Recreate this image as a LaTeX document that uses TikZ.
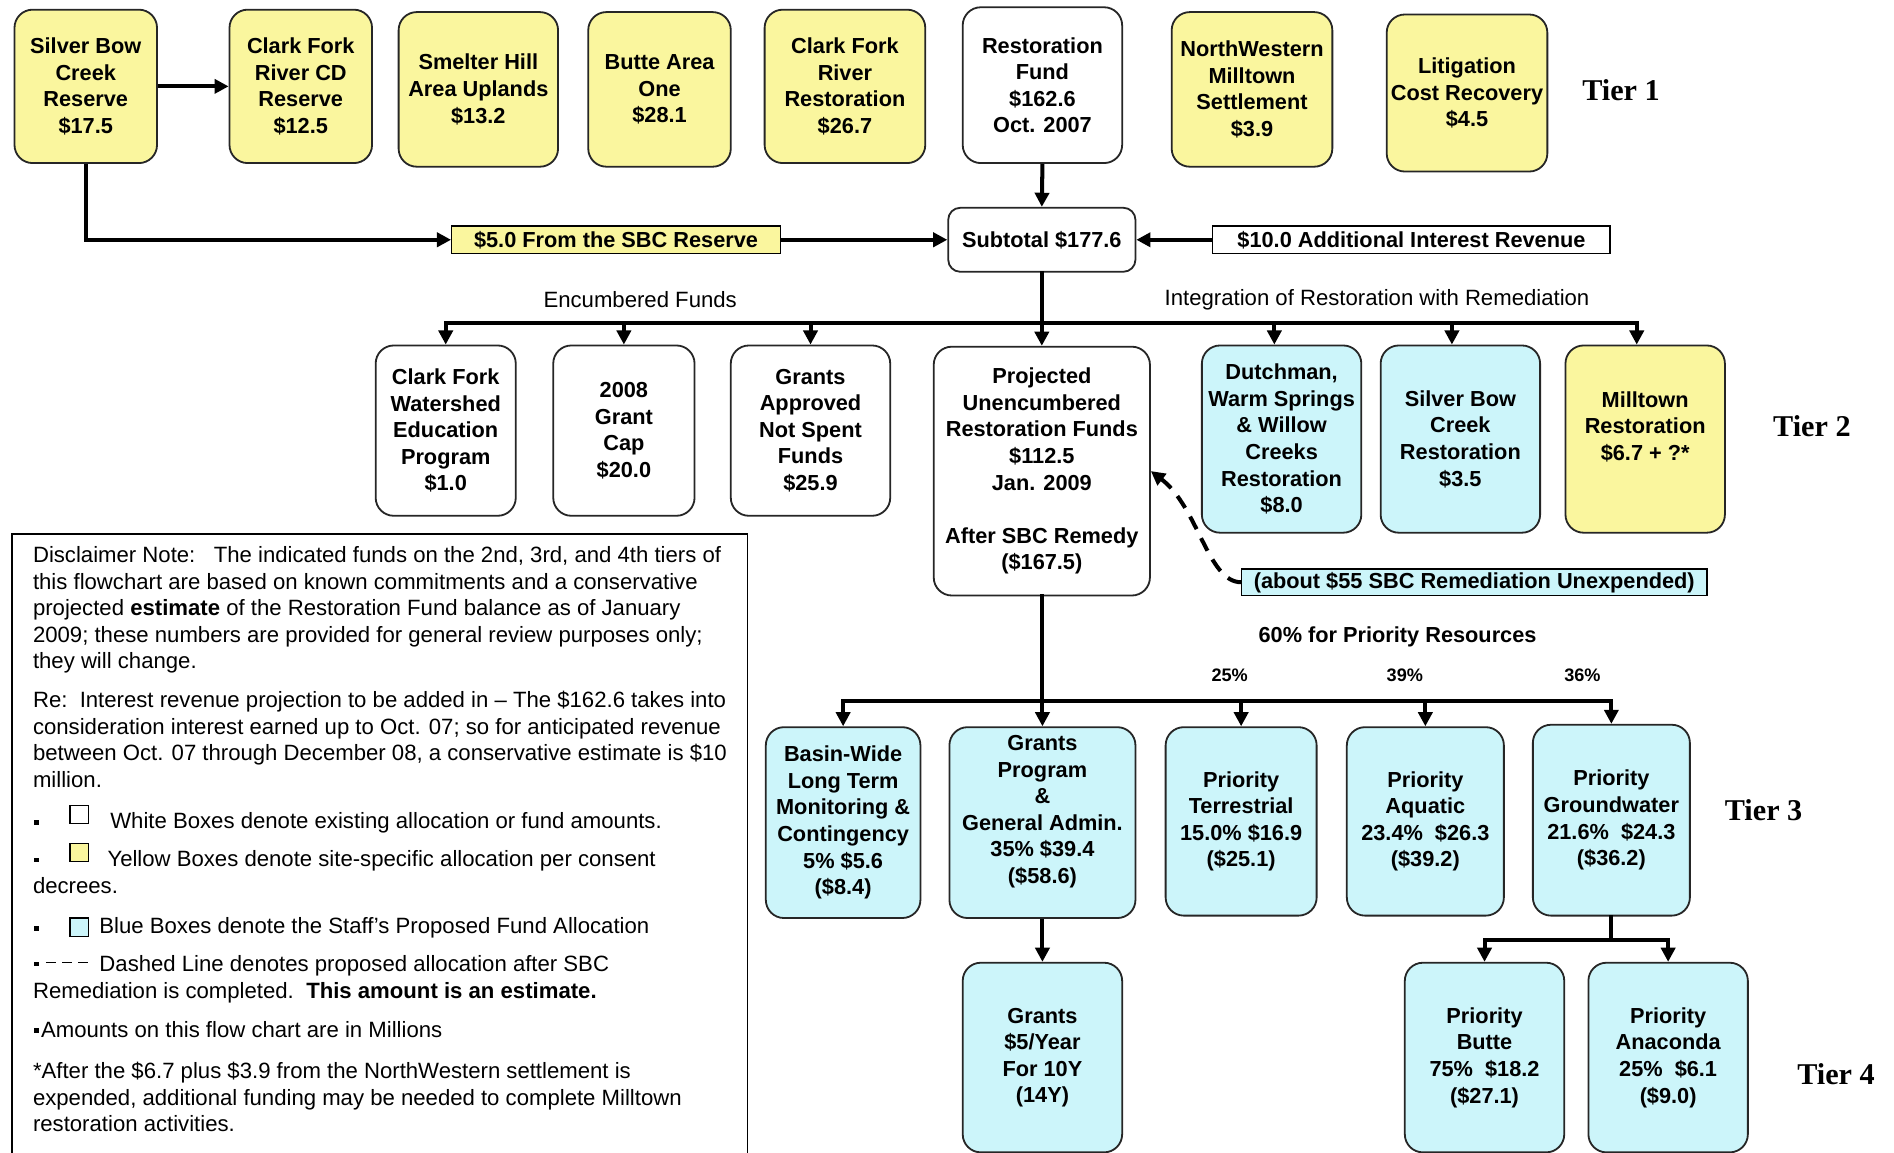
\documentclass[tikz,border=0pt]{standalone}
\usepackage{fontspec}
\setmainfont{Liberation Sans}
\newfontfamily\tierfont{Liberation Serif}
\usetikzlibrary{arrows.meta}

\definecolor{fundyellow}{RGB}{250,246,158}
\definecolor{fundblue}{RGB}{204,245,250}

\newcommand\boxfont{\fontsize{10.8}{13.2}\selectfont\bfseries}
\newcommand\notefont{\fontsize{11}{13.2}\selectfont}

\tikzset{
  fund/.style={draw=black!85, line width=0.9pt, rounded corners=9pt, align=center, font=\boxfont, inner sep=1pt},
  sz/.style 2 args={minimum width=#1*0.6pt, minimum height=#2*0.6pt},
  wbox/.style={fund, fill=white},
  ybox/.style={fund, fill=fundyellow},
  bbox/.style={fund, fill=fundblue},
  tag/.style={draw, line width=0.7pt, font=\boxfont, inner sep=0pt},
  flow/.style={line width=2pt, -{Triangle[length=7pt,width=7pt]}},
  bus/.style={line width=2pt, line cap=rect},
  dashflow/.style={line width=2pt, dash pattern=on 7pt off 5pt, -{Triangle[length=7pt,width=7pt]}},
  tier/.style={font=\tierfont\fontsize{15}{18}\selectfont\bfseries},
  note/.style={anchor=north west, align=left, font=\notefont, inner sep=0pt},
}

\begin{document}
\begin{tikzpicture}[x=0.6pt,y=-0.6pt]
\useasboundingbox (0,0) rectangle (1568,954);

% tier 1
\node[ybox, sz={118}{127}] (sbcres) at (71,71.5) {Silver Bow\\Creek\\Reserve\\\$17.5};
\node[ybox, sz={118}{127}] (cfrcd) at (249,71.5) {Clark Fork\\River CD\\Reserve\\\$12.5};
\node[ybox, sz={132}{128}] (smelter) at (396,74) {Smelter Hill\\Area Uplands\\\$13.2};
\node[ybox, sz={118}{128}] (butte1) at (546,74) {Butte Area\\One\\\$28.1};
\node[ybox, sz={133}{127}] (cfrrest) at (699.5,71.5) {Clark Fork\\River\\Restoration\\\$26.7};
\node[wbox, sz={132}{129}] (restfund) at (863,70.5) {Restoration\\Fund\\\$162.6\\Oct. 2007};
\node[ybox, sz={133}{128}] (nwms) at (1036.5,74) {NorthWestern\\Milltown\\Settlement\\\$3.9};
\node[ybox, sz={133}{130}] (litig) at (1214.5,77) {Litigation\\Cost Recovery\\\$4.5};
\node[tier] (tierA) at (1342,75) {Tier 1};

\draw[flow] (sbcres) -- (cfrcd);

% subtotal row
\node[fund, rounded corners=6pt, sz={155}{53}] (subtotal) at (862.5,198.5) {Subtotal \$177.6};
\node[tag, fill=fundyellow, sz={272}{23}] (sbc5) at (510,198.5) {\$5.0 From the SBC Reserve};
\node[tag, fill=white, sz={329}{23}] (int10) at (1168.5,198.5) {\$10.0 Additional Interest Revenue};

\draw[flow] (sbcres.south) |- (sbc5.west);
\draw[flow] (sbc5.east) -- (subtotal.west);
\draw[flow] (int10.west) -- (subtotal.east);
\draw[flow] (restfund.south) -- (subtotal.north);

\node[font=\notefont] (encumb) at (530,248) {Encumbered Funds};
\node[font=\notefont] (integ) at (1140,248) {Integration of Restoration with Remediation};

% tier 2
\node[wbox, sz={116}{141}] (cfwep) at (369,356.5) {Clark Fork\\Watershed\\Education\\Program\\\$1.0};
\node[wbox, sz={117}{141}] (grantcap) at (516.5,356.5) {2008\\Grant\\Cap\\\$20.0};
\node[wbox, sz={132}{141}] (gans) at (671,356.5) {Grants\\Approved\\Not Spent\\Funds\\\$25.9};
\node[wbox, sz={179}{206}] (projected) at (862.5,390) {Projected\\Unencumbered\\Restoration Funds\\\$112.5\\Jan. 2009\\[13.2pt]After SBC Remedy\\(\$167.5)};
\node[bbox, sz={132}{155}] (dutch) at (1061,363.5) {Dutchman,\\Warm Springs\\\& Willow\\Creeks\\Restoration\\\$8.0};
\node[bbox, sz={132}{155}] (sbcrest) at (1209,363.5) {Silver Bow\\Creek\\Restoration\\\$3.5};
\node[ybox, sz={132}{155}] (milltown) at (1362,363.5) {Milltown\\Restoration\\\$6.7 + ?*\\\mbox{}};
\node[tier] (tierB) at (1500,353) {Tier 2};

\coordinate (busA) at (862.5,267);
\draw[bus] (subtotal.south) -- (busA);
\draw[bus] (cfwep.north |- busA) -- ([xshift=-4.2pt]milltown.north |- busA);
\foreach \n/\dx in {cfwep/0,grantcap/0,gans/0,projected/0,dutch/-3.6,sbcrest/-4.2,milltown/-4.2}
  \draw[flow] ([xshift=\dx pt]\n.north |- busA) -- ([xshift=\dx pt]\n.north);

\node[tag, fill=fundblue, sz={385}{22}] (about) at (1220.5,482) {(about \$55 SBC Remediation Unexpended)};
\draw[dashflow] (about.west) .. controls (1000,482) and (992,420) .. (projected.east);

% tier 3
\node[font=\boxfont] (prio) at (1157,527) {60\% for Priority Resources};
\node[font=\fontsize{9}{11}\selectfont\bfseries] (pctA) at (1018,559) {25\%};
\node[font=\fontsize{9}{11}\selectfont\bfseries] (pctB) at (1163,559) {39\%};
\node[font=\fontsize{9}{11}\selectfont\bfseries] (pctC) at (1310,559) {36\%};

\node[bbox, sz={128}{158}] (basin) at (698,681) {Basin-Wide\\Long Term\\Monitoring \&\\Contingency\\5\% \$5.6\\(\$8.4)};
\node[bbox, sz={154}{158}] (grantsprog) at (863,681) {Grants\\Program\\\&\\General Admin.\\35\% \$39.4\\(\$58.6)\\\mbox{}};
\node[bbox, sz={125}{156}] (terr) at (1027.5,680) {Priority\\Terrestrial\\15.0\% \$16.9\\(\$25.1)};
\node[bbox, sz={130}{156}] (aquatic) at (1180,680) {Priority\\Aquatic\\23.4\%~ \$26.3\\(\$39.2)};
\node[bbox, sz={130}{158}] (ground) at (1334,679) {Priority\\Groundwater\\21.6\%~ \$24.3\\(\$36.2)};
\node[tier] (tierC) at (1460,671) {Tier 3};

\coordinate (busB) at (862.5,580);
\draw[bus] (projected.south) -- (busB);
\draw[bus] (basin.north |- busB) -- (ground.north |- busB);
\foreach \n in {basin,grantsprog,terr,aquatic,ground}
  \draw[flow] (\n.north |- busB) -- (\n.north);

% tier 4
\node[bbox, sz={132}{157}] (grants5) at (863,875.5) {Grants\\\$5/Year\\For 10Y\\(14Y)};
\node[bbox, sz={132}{157}] (butte) at (1229,875.5) {Priority\\Butte\\75\%~ \$18.2\\(\$27.1)};
\node[bbox, sz={132}{157}] (anaconda) at (1381,875.5) {Priority\\Anaconda\\25\%~ \$6.1\\(\$9.0)};
\node[tier] (tierD) at (1520,889) {Tier 4};

\draw[flow] (grantsprog.south) -- (grants5.north);
\coordinate (busC) at (1334,778);
\draw[bus] (ground.south) -- (busC);
\draw[bus] (butte.north |- busC) -- (anaconda.north |- busC);
\foreach \n in {butte,anaconda}
  \draw[flow] (\n.north |- busC) -- (\n.north);

% legend
\draw[line width=0.7pt] (10,960) -- (10,442) -- (619,442) -- (619,960);
\node[note] (note1) at (27,452) {Disclaimer Note:\ \ \ The indicated funds on the 2nd, 3rd, and 4th tiers of\\this flowchart are based on known commitments and a conservative\\projected \textbf{estimate} of the Restoration Fund balance as of January\\2009; these numbers are provided for general review purposes only;\\they will change.};
\node[note] (note2) at (27,572) {Re:\ \ Interest revenue projection to be added in – The \$162.6 takes into\\consideration interest earned up to Oct. 07; so for anticipated revenue\\between Oct. 07 through December 08, a conservative estimate is \$10\\million.};
\node[note] (note3) at (27,672) {\hspace{38.4pt}White Boxes denote existing allocation or fund amounts.};
\node[note] (note4) at (27,704) {\hspace{37pt}Yellow Boxes denote site-specific allocation per consent\\decrees.};
\node[note] (note5) at (27,759) {\hspace{33pt}Blue Boxes denote the Staff’s Proposed Fund Allocation};
\node[note] (note6) at (27,791) {\hspace{33pt}Dashed Line denotes proposed allocation after SBC\\Remediation is completed.\ \ \textbf{This amount is an estimate.}};
\node[note] (note7) at (27,845) {\hspace{4pt}Amounts on this flow chart are in Millions};
\node[note] (note8) at (27,879) {*After the \$6.7 plus \$3.9 from the NorthWestern settlement is\\expended, additional funding may be needed to complete Milltown\\restoration activities.};

\foreach \y in {681,712,769,798,853}
  \fill (28,\y-2) rectangle (32,\y+2);
\draw[line width=0.6pt, fill=white] (58,667) rectangle (73,682);
\draw[line width=0.6pt, fill=fundyellow] (58,698) rectangle (73,713);
\draw[line width=0.6pt, fill=fundblue] (58,760) rectangle (73,775);
\draw[line width=0.6pt, dash pattern=on 5pt off 3pt] (38,797) -- (73,797);
\end{tikzpicture}
\end{document}
